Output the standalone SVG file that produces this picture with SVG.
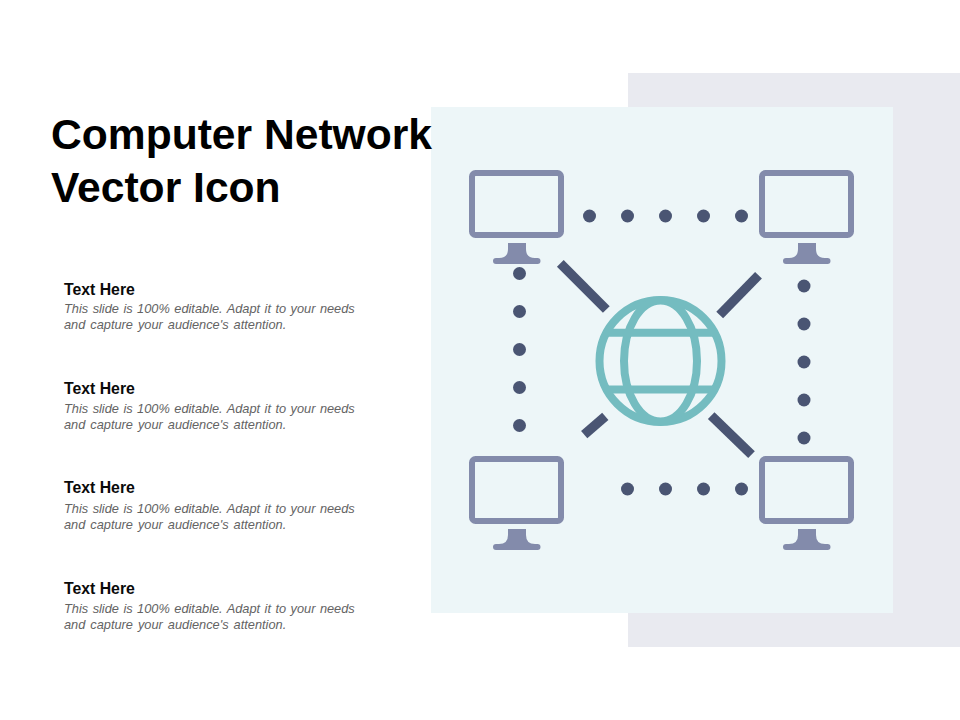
<svg xmlns="http://www.w3.org/2000/svg" xmlns:xlink="http://www.w3.org/1999/xlink" width="960" height="720" viewBox="0 0 960 720">
<style>
.title{font:700 42.6px "Liberation Sans",Arial,sans-serif;fill:#000}
.head{font:700 15.8px "Liberation Sans",Arial,sans-serif;fill:#0a0a0a}
.body{font:italic 12.8px "Liberation Sans",Arial,sans-serif;fill:#636363}
.l1{word-spacing:.9px}
.l2{word-spacing:1.4px}
.dot{fill:#4a5573}
.link{stroke:#4a5573;stroke-width:9.5;fill:none}
.screen{fill:none;stroke:#838bab;stroke-width:6}
.stand{fill:#838bab}
.globe{fill:none;stroke:#74bcc0;stroke-width:8}
</style>
<defs>
<g id="monitor">
<rect class="screen" x="472" y="173" width="89" height="62" rx="3.5"/>
<path class="stand" d="M508 243H526V249Q526 258 535 258H537.5A3 3 0 0 1 537.5 264H496A3 3 0 0 1 496 258H499Q508 258 508 249Z"/>
</g>
</defs>
<rect x="0" y="0" width="960" height="720" fill="#fff"/>
<rect x="628" y="73" width="332" height="574" fill="#e9eaf0"/>
<rect x="431" y="107" width="462" height="506" fill="#edf6f8"/>
<g id="title">
<text class="title" x="51" y="149">Computer Network</text>
<text class="title" x="51" y="201.5">Vector Icon</text>
</g>
<g id="text-1">
<text class="head" x="64" y="295">Text Here</text>
<text class="body l1" x="64" y="313">This slide is 100% editable. Adapt it to your needs</text>
<text class="body l2" x="64" y="329">and capture your audience's attention.</text>
</g>
<g id="text-2">
<text class="head" x="64" y="394">Text Here</text>
<text class="body l1" x="64" y="413">This slide is 100% editable. Adapt it to your needs</text>
<text class="body l2" x="64" y="429">and capture your audience's attention.</text>
</g>
<g id="text-3">
<text class="head" x="64" y="493">Text Here</text>
<text class="body l1" x="64" y="513">This slide is 100% editable. Adapt it to your needs</text>
<text class="body l2" x="64" y="529">and capture your audience's attention.</text>
</g>
<g id="text-4">
<text class="head" x="64" y="594">Text Here</text>
<text class="body l1" x="64" y="613">This slide is 100% editable. Adapt it to your needs</text>
<text class="body l2" x="64" y="629">and capture your audience's attention.</text>
</g>
<g id="connectors">
<g id="links">
<path class="link" d="M560.3 263.3L606.3 309.5"/>
<path class="link" d="M758.5 275.2L719.7 315"/>
<path class="link" d="M605.3 416.3L584.2 434.7"/>
<path class="link" d="M711.2 415.7L751.5 454.6"/>
</g>
<g id="dots">
<circle class="dot" cx="589.5" cy="216" r="6.5"/><circle class="dot" cx="627.5" cy="216" r="6.5"/><circle class="dot" cx="665.5" cy="216" r="6.5"/><circle class="dot" cx="703.5" cy="216" r="6.5"/><circle class="dot" cx="741.5" cy="216" r="6.5"/>
<circle class="dot" cx="519.5" cy="273.5" r="6.5"/><circle class="dot" cx="519.5" cy="311.5" r="6.5"/><circle class="dot" cx="519.5" cy="349.5" r="6.5"/><circle class="dot" cx="519.5" cy="387.5" r="6.5"/><circle class="dot" cx="519.5" cy="425.5" r="6.5"/>
<circle class="dot" cx="804" cy="286" r="6.5"/><circle class="dot" cx="804" cy="324" r="6.5"/><circle class="dot" cx="804" cy="362" r="6.5"/><circle class="dot" cx="804" cy="400" r="6.5"/><circle class="dot" cx="804" cy="438" r="6.5"/>
<circle class="dot" cx="627.5" cy="489" r="6.5"/><circle class="dot" cx="665.5" cy="489" r="6.5"/><circle class="dot" cx="703.5" cy="489" r="6.5"/><circle class="dot" cx="741.5" cy="489" r="6.5"/>
</g>
</g>
<g id="monitor-tl"><use xlink:href="#monitor" href="#monitor"/></g>
<g id="monitor-tr"><use xlink:href="#monitor" href="#monitor" x="290"/></g>
<g id="monitor-bl"><use xlink:href="#monitor" href="#monitor" y="286"/></g>
<g id="monitor-br"><use xlink:href="#monitor" href="#monitor" x="290" y="286"/></g>
<g id="globe">
<circle class="globe" cx="660.5" cy="361" r="61"/>
<ellipse class="globe" cx="660.5" cy="361" rx="36.5" ry="60.5"/>
<path class="globe" d="M606 332.7H715M606 389.5H715"/>
</g>
</svg>
